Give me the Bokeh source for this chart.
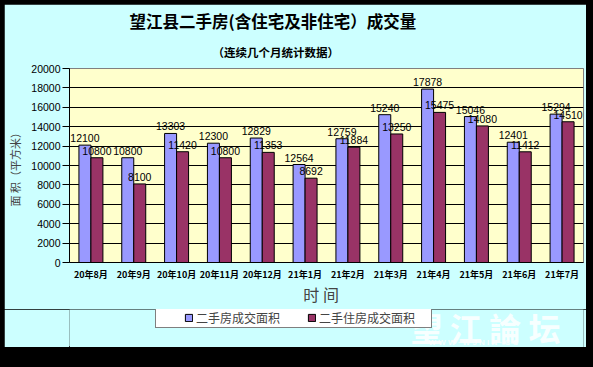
from bokeh.plotting import figure
from bokeh.layouts import column
from bokeh.models import (ColumnDataSource, FactorRange, LabelSet, Label, Legend,
                          LegendItem, SingleIntervalTicker, Range1d, Title)
from bokeh.transform import dodge
from bokeh.embed import file_html
from bokeh.resources import INLINE
from bokeh.core.properties import value

months = ["20年8月", "20年9月", "20年10月", "20年11月", "20年12月", "21年1月",
          "21年2月", "21年3月", "21年4月", "21年5月", "21年6月", "21年7月"]
# bar heights as drawn in the picture
area_all = [12100, 10800, 13303, 12300, 12829, 10100, 12759, 15240, 17878, 15046, 12401, 15294]
area_res = [10800, 8100, 11420, 10800, 11353, 8692, 11884, 13250, 15475, 14080, 11412, 14510]
# data labels as printed
label_all = ["12100", "10800", "13303", "12300", "12829", "12564", "12759", "15240",
             "17878", "15046", "12401", "15294"]
label_res = ["10800", "8100", "11420", "10800", "11353", "8692", "11884", "13250",
             "15475", "14080", "11412", "14510"]
series_names = ["二手房成交面积", "二手住房成交面积"]
title_text = "望江县二手房(含住宅及非住宅）成交量"
subtitle_text = "（连续几个月统计数据）"

FONT = "Noto Sans CJK SC"
NUM = "Liberation Sans"
CYAN = "#CCFFFF"
BLUE = "#9999FF"
WINE = "#993366"
W = 582
H1, H2 = 305, 38

src = ColumnDataSource(data=dict(month=months, a=area_all, r=area_res,
                                 la=label_all, lr=label_res))

p = figure(width=W, height=H1, x_range=FactorRange(*months), y_range=Range1d(0, 20000),
           output_backend="svg", toolbar_location=None, title=title_text,
           min_border_left=63, min_border_right=3, min_border_top=64,
           min_border_bottom=H1 - 258)
p.border_fill_color = CYAN
p.background_fill_color = "#FFFFCC"
p.outline_line_color = "#808080"

# main title (outer) and subtitle (inner, closer to the frame)
p.title.align = "left"
p.title.offset = 60
p.title.text_font = FONT
p.title.text_font_size = "16.5px"
p.title.text_font_style = "bold"
p.title.text_color = "black"
p.title.standoff = 0
p.add_layout(Title(text=subtitle_text, align="left", offset=143, text_font=FONT,
                   text_font_size="11.5px", text_font_style="bold", text_color="black",
                   standoff=18), "above")

bw = 0.28
p.vbar(x=dodge("month", -bw / 2, range=p.x_range), top="a", width=bw, source=src,
       fill_color=BLUE, line_color="black", line_width=1)
p.vbar(x=dodge("month", bw / 2, range=p.x_range), top="r", width=bw, source=src,
       fill_color=WINE, line_color="black", line_width=1)

for col, txt, off in (("a", "la", -bw / 2), ("r", "lr", bw / 2)):
    p.add_layout(LabelSet(x=dodge("month", off, range=p.x_range), y=col, text=txt,
                          source=src, y_offset=3, text_align="center",
                          text_baseline="bottom", text_font=value(NUM),
                          text_font_size="10.5px", text_color="black"))

# axes
p.yaxis.ticker = SingleIntervalTicker(interval=2000)
p.yaxis.major_label_text_font = NUM
p.yaxis.major_label_text_font_size = "10.5px"
p.yaxis.major_label_text_color = "black"
p.yaxis.major_tick_out = 7
p.yaxis.major_tick_in = 0
p.yaxis.minor_tick_line_color = None
p.yaxis.axis_line_color = "black"
p.yaxis.major_tick_line_color = "black"
p.yaxis.major_label_standoff = 2
p.yaxis.axis_label = "面  积（平方米）"
p.yaxis.axis_label_text_font = FONT
p.yaxis.axis_label_text_font_style = "normal"
p.yaxis.axis_label_text_font_size = "11px"
p.yaxis.axis_label_standoff = 5

p.xaxis.major_label_text_font = FONT
p.xaxis.major_label_text_font_style = "bold"
p.xaxis.major_label_text_font_size = "9px"
p.xaxis.major_label_text_color = "black"
p.xaxis.major_tick_line_color = None
p.xaxis.major_tick_out = 0
p.xaxis.major_tick_in = 0
p.xaxis.major_label_standoff = 5
p.xaxis.axis_line_color = "black"
p.xaxis.axis_label = "时    间"
p.xaxis.axis_label_text_font = FONT
p.xaxis.axis_label_text_font_style = "normal"
p.xaxis.axis_label_text_font_size = "16px"
p.xaxis.axis_label_standoff = -2

p.xgrid.grid_line_color = None
p.ygrid.grid_line_color = "black"
p.ygrid.grid_line_width = 1

# bottom strip: legend and watermark (its frame is aligned with the chart frame)
p2 = figure(width=W, height=H2, x_range=Range1d(0, W), y_range=Range1d(0, H2),
            output_backend="svg", toolbar_location=None, x_axis_type=None,
            y_axis_type=None, min_border=0, min_border_left=0, min_border_right=0,
            min_border_top=0, min_border_bottom=0)
p2.border_fill_color = CYAN
p2.background_fill_color = CYAN
p2.outline_line_color = None
p2.grid.visible = False
kb = p2.vbar(x=[-50], top=[1], width=1, fill_color=BLUE, line_color="black")
kr = p2.vbar(x=[-50], top=[1], width=1, fill_color=WINE, line_color="black")

legend = Legend(items=[LegendItem(label=series_names[0], renderers=[kb]),
                       LegendItem(label=series_names[1], renderers=[kr])],
                orientation="horizontal", location=(86, 19),
                title="\u3000", title_location="left", title_standoff=10,
                title_text_font=FONT, title_text_font_size="12px",
                label_text_font=FONT, label_text_font_size="12px",
                glyph_width=9, glyph_height=9, label_standoff=3, spacing=0,
                label_width=111, padding=1, margin=0, border_line_color="black",
                background_fill_color="white", background_fill_alpha=1,
                label_height=13)
p2.add_layout(legend)

p2.add_layout(Label(x=416, y=21, x_units="screen", y_units="screen",
                    text="望 江 論 坛", text_font=FONT, text_font_style="bold",
                    text_font_size="32px", text_align="center", text_baseline="middle",
                    text_color="white", text_alpha=0.85))
p2.add_layout(Label(x=416, y=5, x_units="screen", y_units="screen",
                    text="W  W  W  ·  W  J  N  I  N  ·  C  C", text_font=NUM,
                    text_font_style="bold", text_font_size="8px", text_align="center",
                    text_baseline="middle", text_color="white", text_alpha=0.85))

layout = column(p, p2, spacing=0)

html = file_html(layout, INLINE)
html = html.replace("</head>", "<style>html,body{background:#000 !important;}"
                    "body{padding:4px 0 0 4px !important;}</style></head>", 1)
open("out.html", "w").write(html)
